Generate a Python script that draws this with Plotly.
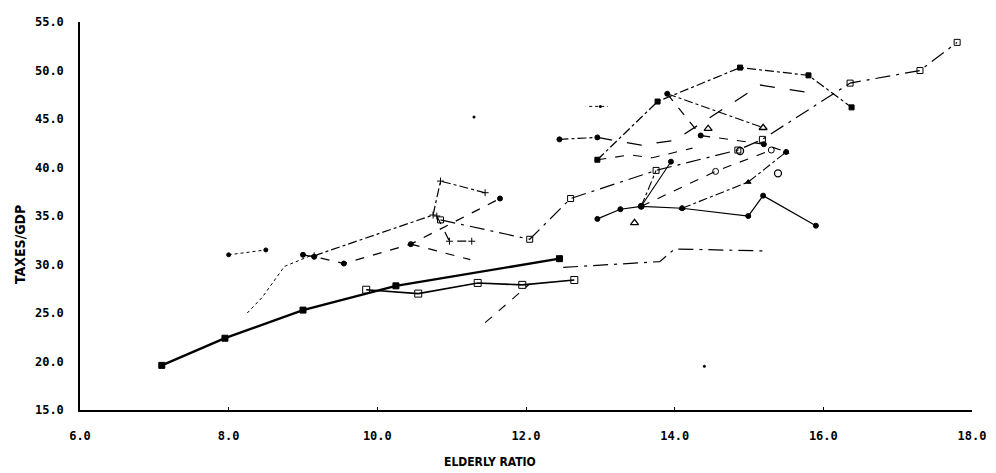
import plotly.graph_objects as go

# ---- data ----
x_ticks = [6.0, 8.0, 10.0, 12.0, 14.0, 16.0, 18.0]
y_ticks = [15.0, 20.0, 25.0, 30.0, 35.0, 40.0, 45.0, 50.0, 55.0]

s1_x = [7.1, 7.95, 9.0, 10.25, 12.45]
s1_y = [19.6, 22.4, 25.3, 27.8, 30.6]

s2_x = [9.85, 10.55, 11.35, 11.95, 12.65]
s2_y = [27.4, 27.0, 28.1, 27.9, 28.4]

s3_x = [12.5, 13.8, 14.0, 15.2]
s3_y = [29.7, 30.3, 31.6, 31.4]

s4_x = [11.45, 12.05]
s4_y = [24.0, 28.0]

s5_x = [8.25, 8.45, 8.75, 9.1]
s5_y = [25.0, 26.6, 29.8, 30.9]

s6_x = [8.0, 8.5]
s6_y = [31.0, 31.5]

s7_x = [9.0, 9.15, 9.55, 10.45, 11.65]
s7_y = [31.0, 30.8, 30.1, 32.1, 36.8]

s8_x = [10.45, 11.25]
s8_y = [32.1, 30.5]

s9_x = [9.15, 10.75, 10.85, 11.45]
s9_y = [30.9, 35.1, 38.6, 37.4]

s10_x = [10.8, 10.97, 11.27]
s10_y = [35.0, 32.4, 32.4]

s11_x = [10.85, 12.05, 12.6, 13.75, 14.85, 15.18, 16.36, 17.3, 17.8]
s11_y = [34.6, 32.6, 36.8, 39.7, 41.8, 42.9, 48.7, 50.0, 52.9]

s12_x = [12.96, 13.77, 14.88, 15.8, 16.38]
s12_y = [40.8, 46.8, 50.3, 49.5, 46.2]

s13_x = [12.96, 13.55, 14.0, 15.15, 15.75]
s13_y = [43.1, 42.3, 42.8, 48.5, 47.8]

s14_x = [12.45, 12.96]
s14_y = [42.9, 43.1]

s15_x = [13.9, 15.19]
s15_y = [47.6, 44.1]

s16_x = [13.9, 14.35, 15.2, 15.5]
s16_y = [47.6, 43.3, 42.4, 41.6]

s17_x = [12.96, 13.27, 13.55, 14.1, 14.99, 15.19, 15.9]
s17_y = [34.7, 35.7, 36.0, 35.8, 35.0, 37.1, 34.0]

s18_x = [14.1, 14.99, 15.5]
s18_y = [35.8, 38.5, 41.6]

s19_x = [13.55, 14.55, 15.3]
s19_y = [36.0, 39.6, 41.8]

s20_x = [13.55, 13.95]
s20_y = [36.0, 40.6]

s21_x = [12.85, 13.1]
s21_y = [46.3, 46.3]

s22_x = [12.96, 13.4, 13.7, 14.24]
s22_y = [40.8, 41.3, 41.0, 42.0]

s23_x = [13.55, 13.75]
s23_y = [36.0, 39.7]

tri_x = [14.45, 13.46, 15.19]
tri_y = [44.0, 34.3, 44.1]

circ_x = [15.39, 14.88]
circ_y = [39.4, 41.7]

dot_x = [11.3, 14.4, 13.0]
dot_y = [45.2, 19.5, 46.3]

# ---- styles ----
series = [
    (s1_x, s1_y, "solid", 2.4, "square", 6),
    (s2_x, s2_y, "solid", 1.6, "square-open", 7),
    (s3_x, s3_y, "longdashdot", 1.2, "circle", 0),
    (s4_x, s4_y, "dash", 1.1, "circle", 0),
    (s5_x, s5_y, "dot", 1.0, "circle", 0),
    (s6_x, s6_y, "dot", 1.0, "circle", 4),
    (s7_x, s7_y, "dash", 1.3, "circle", 5),
    (s8_x, s8_y, "dash", 1.2, "circle", 0),
    (s9_x, s9_y, "dashdot", 1.2, "cross-thin-open", 5),
    (s10_x, s10_y, "dash", 1.2, "cross-thin-open", 5),
    (s11_x, s11_y, "longdashdot", 1.2, "square-open", 6),
    (s12_x, s12_y, "dashdot", 1.2, "square", 5),
    (s13_x, s13_y, "longdash", 1.3, "circle", 0),
    (s14_x, s14_y, "dashdot", 1.2, "circle", 5),
    (s15_x, s15_y, "dashdot", 1.1, "circle", 0),
    (s16_x, s16_y, "dash", 1.2, "circle", 5),
    (s17_x, s17_y, "solid", 1.2, "circle", 5),
    (s18_x, s18_y, "dashdot", 1.1, "triangle-up", 5),
    (s19_x, s19_y, "dash", 1.1, "circle-open", 6),
    (s20_x, s20_y, "solid", 1.1, "circle", 5),
    (s21_x, s21_y, "dot", 1.0, "circle", 0),
    (s22_x, s22_y, "dash", 1.1, "circle", 0),
    (s23_x, s23_y, "dashdot", 1.1, "circle", 0),
]

fig = go.Figure()
for xs, ys, dash, w, sym, msz in series:
    fig.add_trace(go.Scatter(
        x=xs, y=ys, mode="lines+markers" if msz else "lines",
        line=dict(color="black", width=w, dash=dash),
        marker=dict(symbol=sym, size=msz if msz else 1, color="black",
                    line=dict(color="black", width=1)),
        showlegend=False, hoverinfo="skip"))

fig.add_trace(go.Scatter(x=tri_x, y=tri_y, mode="markers",
                         marker=dict(symbol="triangle-up-open", size=7, color="black",
                                     line=dict(color="black", width=1.3)),
                         showlegend=False, hoverinfo="skip"))
fig.add_trace(go.Scatter(x=circ_x, y=circ_y, mode="markers",
                         marker=dict(symbol="circle-open", size=7, color="black",
                                     line=dict(color="black", width=1.3)),
                         showlegend=False, hoverinfo="skip"))
fig.add_trace(go.Scatter(x=dot_x, y=dot_y, mode="markers",
                         marker=dict(size=3, color="black"),
                         showlegend=False, hoverinfo="skip"))

font_ax = dict(family="DejaVu Sans Mono", size=12, color="black", weight="bold")

# page body has an 8px margin, so the figure is sized/offset to compensate
fig.update_layout(
    width=988, height=465,
    margin=dict(l=72, r=24, t=7, b=63),
    paper_bgcolor="white", plot_bgcolor="white",
    xaxis=dict(range=[6, 18], tickvals=x_ticks,
               ticktext=[f"{v:.1f}" for v in x_ticks],
               showgrid=False, zeroline=False, showline=True,
               linecolor="black", linewidth=1.5, ticks="inside",
               ticklen=3, tickcolor="black", tickfont=font_ax,
               ticklabelstandoff=14),
    yaxis=dict(range=[15, 55], tickvals=y_ticks,
               ticktext=[f"{v:.1f}" for v in y_ticks],
               showgrid=False, zeroline=False, showline=True,
               linecolor="black", linewidth=1.5, ticks="",
               tickfont=font_ax, ticklabelstandoff=12),
)

PW, PH = 892, 395  # plot area size in pixels (left 80, top 15 on the page)
fig.add_annotation(text="ELDERLY RATIO",
                   x=(490 - 80) / PW, y=-(463 - 410) / PH,
                   xref="paper", yref="paper", showarrow=False,
                   xanchor="center", yanchor="middle",
                   font=dict(family="DejaVu Sans Condensed", size=12,
                             color="black", weight="bold"))
fig.add_annotation(text="TAXES/GDP", textangle=-90,
                   x=-(80 - 20) / PW, y=(410 - 242) / PH,
                   xref="paper", yref="paper", showarrow=False,
                   xanchor="center", yanchor="middle",
                   font=dict(family="DejaVu Sans Condensed", size=14,
                             color="black", weight="bold"))

fig.write_html("out.html")
